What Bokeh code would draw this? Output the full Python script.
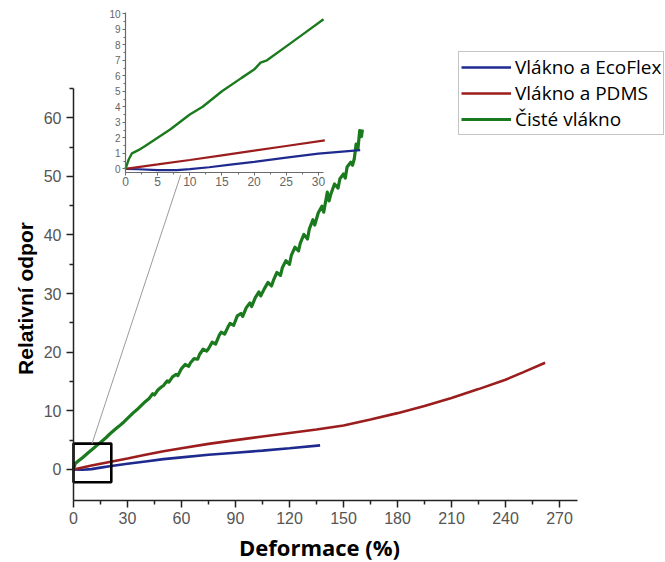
import math
from bokeh.plotting import figure
from bokeh.models import (Range1d, FixedTicker, Legend, LegendItem, LinearAxis, Label)
from bokeh.embed import file_html
from bokeh.resources import INLINE

# ---------------- data ----------------
series_names = ["Vlákno a EcoFlex", "Vlákno a PDMS", "Čisté vlákno"]
series_colors = ["#1f2a8f", "#9b1d1d", "#1b7a1e"]

# main chart: deformation (%) vs relative resistance
ecoflex_x = [0, 5, 10, 15, 20, 30, 40, 50, 60, 75, 90, 105, 120, 137]
ecoflex_y = [0, -0.05, 0.05, 0.3, 0.55, 0.95, 1.35, 1.75, 2.05, 2.5, 2.85, 3.2, 3.6, 4.1]

pdms_x = [0, 10, 20, 30, 40, 50, 60, 75, 90, 105, 120, 135, 150, 165, 180, 195,
          210, 225, 240, 250, 262]
pdms_y = [0, 0.65, 1.25, 1.85, 2.5, 3.1, 3.6, 4.35, 5.0, 5.6, 6.2, 6.8, 7.5, 8.5,
          9.6, 10.8, 12.2, 13.7, 15.3, 16.6, 18.2]

pure_x = [0, 1, 3, 5, 8, 10, 13, 15, 18, 20, 23, 25, 28, 30, 33, 36, 38, 40, 42, 44,
          45, 47, 49, 50, 52, 53, 55, 57, 58,
          60, 62, 64, 65, 67, 69, 70, 72, 74, 75, 77, 79, 81, 82, 84, 86, 87, 89, 91,
          93, 94, 96, 98, 99, 101, 103, 104, 106, 108, 110, 111, 113, 115, 116, 118,
          120, 121, 123, 125, 126, 128, 130, 131, 133, 134, 136, 138, 139, 141, 142,
          143, 145, 147, 148, 150, 151, 152, 154, 155, 156, 157, 158, 159, 160, 160.5]
pure_y = [0.0, 1.0, 1.5, 2.0, 2.8, 3.3, 4.1, 4.6, 5.4, 6.0, 6.8, 7.3, 8.1, 8.7, 9.6,
          10.4, 11.0, 11.6, 12.1, 12.9, 12.7, 13.6, 14.1, 14.3, 15.1, 14.9, 15.8, 16.2,
          16.0,
          17.2, 17.9, 17.6, 18.2, 18.9, 18.8, 19.6, 20.5, 20.2, 20.6, 21.7, 21.4, 22.9,
          23.4, 23.1, 24.4, 24.9, 24.6, 26.2, 26.6, 26.1, 27.6, 28.4, 27.8, 29.3, 30.3,
          29.6, 30.8, 31.9, 31.3, 32.2, 33.6, 33.1, 34.4, 35.6, 35.0, 36.5, 37.9, 37.3,
          38.6, 40.1, 39.3, 41.0, 42.6, 41.7, 43.8, 44.9, 43.9, 47.3, 45.8, 47.0, 48.7,
          48.0, 49.6, 50.4, 49.7, 51.6, 52.4, 51.9, 53.0, 55.5, 54.6, 57.8, 56.8, 58.0]

# inset (zoom of the first 30 %)
in_ecoflex_x = [0, 2, 5, 8, 10, 13, 16, 20, 25, 30, 36.5]
in_ecoflex_y = [0, -0.03, -0.08, -0.08, -0.02, 0.1, 0.25, 0.45, 0.72, 0.98, 1.2]
in_pdms_x = [0, 5, 10, 15, 20, 25, 31]
in_pdms_y = [0, 0.28, 0.57, 0.87, 1.17, 1.47, 1.83]
in_pure_x = [0, 0.5, 1, 2, 3, 5, 7, 10, 12, 15, 18, 20, 21, 22, 25, 28, 30.8]
in_pure_y = [0, 0.6, 1.0, 1.2, 1.45, 2.0, 2.55, 3.5, 4.0, 5.0, 5.85, 6.4, 6.85, 7.0,
             7.9, 8.8, 9.65]

# zoom box and its connector (main data units)
zoom_box = dict(left=0, right=21, bottom=-2.2, top=4.4)
connector = dict(x0=10.3, y0=4.4, x1=59.5, y1=50.2)

x_major = [0, 30, 60, 90, 120, 150, 180, 210, 240, 270]
x_minor = [15, 45, 75, 105, 135, 165, 195, 225, 255]
y_major = [0, 10, 20, 30, 40, 50, 60]
y_minor = [5, 15, 25, 35, 45, 55, 65]
in_x_major = [0, 5, 10, 15, 20, 25, 30]
in_x_minor = [2.5, 7.5, 12.5, 17.5, 22.5, 27.5]
in_y_major = list(range(0, 11))
in_y_minor = [0.5 + i for i in range(10)]

x_label = "Deformace (%)"
y_label = "Relativní odpor"

# ---------------- geometry (screen px) ----------------
W, H = 665, 562
X0_PX, X_PX = 73, 1.8            # main x: origin px, px per unit
Y0_PX, Y_PX = 468.9, 5.861       # main y: origin px, px per unit
X_AXIS_END = 280
Y_AXIS = (-5.3, 65)
IN_X0_PX, IN_Y0_PX = 125, 168.3  # inset origin
IN_XPX, IN_YPX = 6.43, 15.5

# the frame covers the whole canvas; axes are pinned at fixed locations
x_rng = Range1d(-X0_PX / X_PX, (W - X0_PX) / X_PX)
y_rng = Range1d((Y0_PX - H) / Y_PX, Y0_PX / Y_PX)
in_x_rng = Range1d(-IN_X0_PX / IN_XPX, (W - IN_X0_PX) / IN_XPX)
in_y_rng = Range1d((IN_Y0_PX - H) / IN_YPX, IN_Y0_PX / IN_YPX)

p = figure(width=W, height=H, output_backend="svg", toolbar_location=None,
           x_range=x_rng, y_range=y_rng, min_border=0)
p.extra_x_ranges = {"inset_x": in_x_rng}
p.extra_y_ranges = {"inset_y": in_y_rng}
p.outline_line_color = None
p.grid.visible = False
p.background_fill_color = "white"
p.border_fill_color = "white"

r_eco = p.line(ecoflex_x, ecoflex_y, color=series_colors[0], line_width=2.6)
r_pdms = p.line(pdms_x, pdms_y, color=series_colors[1], line_width=2.6)
r_pure = p.line(pure_x, pure_y, color=series_colors[2], line_width=3.2,
                line_join="round")

p.quad(left=[zoom_box["left"]], right=[zoom_box["right"]],
       bottom=[zoom_box["bottom"]], top=[zoom_box["top"]],
       fill_color=None, line_color="black", line_width=2.6)
p.segment(x0=[connector["x0"]], y0=[connector["y0"]], x1=[connector["x1"]],
          y1=[connector["y1"]], line_color="#9a9a9a", line_width=1)

# inset curves
p.line(in_ecoflex_x, in_ecoflex_y, color=series_colors[0], line_width=2.2,
       x_range_name="inset_x", y_range_name="inset_y")
p.line(in_pdms_x, in_pdms_y, color=series_colors[1], line_width=2.2,
       x_range_name="inset_x", y_range_name="inset_y")
p.line(in_pure_x, in_pure_y, color=series_colors[2], line_width=2.4,
       x_range_name="inset_x", y_range_name="inset_y")


def style_main(ax):
    ax.axis_line_color = "#222222"
    ax.axis_line_width = 1.5
    ax.major_tick_line_color = "#222222"
    ax.minor_tick_line_color = "#222222"
    ax.major_tick_line_width = 1.5
    ax.minor_tick_line_width = 1.5
    ax.major_tick_out = 7
    ax.major_tick_in = 0
    ax.minor_tick_out = 4
    ax.minor_tick_in = 0
    ax.major_label_text_font = "Liberation Sans"
    ax.major_label_text_font_size = "16px"
    ax.major_label_text_color = "#555555"
    ax.major_label_standoff = 5


xa = p.xaxis[0]
style_main(xa)
xa.ticker = FixedTicker(ticks=x_major, minor_ticks=x_minor)
xa.fixed_location = Y_AXIS[0]
xa.bounds = (0, X_AXIS_END)

ya = p.yaxis[0]
style_main(ya)
ya.ticker = FixedTicker(ticks=y_major, minor_ticks=y_minor)
ya.fixed_location = 0
ya.bounds = Y_AXIS

# axis titles
p.add_layout(Label(x=(319 - X0_PX) / X_PX, y=(Y0_PX - 546) / Y_PX, text=x_label,
                   text_align="center", text_baseline="middle",
                   text_font="Open Sans", text_font_style="bold",
                   text_font_size="22px", text_color="black"))
p.add_layout(Label(x=(25 - X0_PX) / X_PX, y=(Y0_PX - 298) / Y_PX, text=y_label,
                   angle=math.pi / 2, text_align="center", text_baseline="middle",
                   text_font="Liberation Sans", text_font_style="bold",
                   text_font_size="21px", text_color="black"))


# inset axes
def style_inset(ax):
    ax.axis_line_color = "#6a6a6a"
    ax.axis_line_width = 1.2
    ax.major_tick_line_color = "#6a6a6a"
    ax.minor_tick_line_color = "#6a6a6a"
    ax.major_tick_out = 3
    ax.major_tick_in = 0
    ax.minor_tick_out = 2
    ax.minor_tick_in = 0
    ax.major_label_text_font = "Liberation Sans"
    ax.major_label_text_color = "#666666"
    ax.major_label_standoff = 2


in_xaxis = LinearAxis(x_range_name="inset_x", y_range_name="inset_y",
                      fixed_location=-0.22, bounds=(0, 30.8),
                      ticker=FixedTicker(ticks=in_x_major, minor_ticks=in_x_minor))
style_inset(in_xaxis)
in_xaxis.major_label_text_font_size = "12px"
p.add_layout(in_xaxis, "below")

in_yaxis = LinearAxis(x_range_name="inset_x", y_range_name="inset_y",
                      fixed_location=0, bounds=(-0.22, 10.1),
                      ticker=FixedTicker(ticks=in_y_major, minor_ticks=in_y_minor))
style_inset(in_yaxis)
in_yaxis.major_label_text_font_size = "10px"
p.add_layout(in_yaxis, "left")

legend = Legend(items=[LegendItem(label=series_names[0], renderers=[r_eco]),
                       LegendItem(label=series_names[1], renderers=[r_pdms]),
                       LegendItem(label=series_names[2], renderers=[r_pure])],
                location=(458, H - 135))
legend.label_text_font = "Open Sans"
legend.label_text_font_size = "19px"
legend.label_text_color = "black"
legend.glyph_width = 50
legend.glyph_height = 24
legend.label_height = 24
legend.label_standoff = 4
legend.spacing = 0
legend.padding = 2
legend.margin = 0
legend.border_line_color = "#8a8a8a"
legend.border_line_width = 1
legend.background_fill_color = "white"
legend.background_fill_alpha = 1
p.add_layout(legend, "center")

open("out.html", "w").write(file_html(p, INLINE))
